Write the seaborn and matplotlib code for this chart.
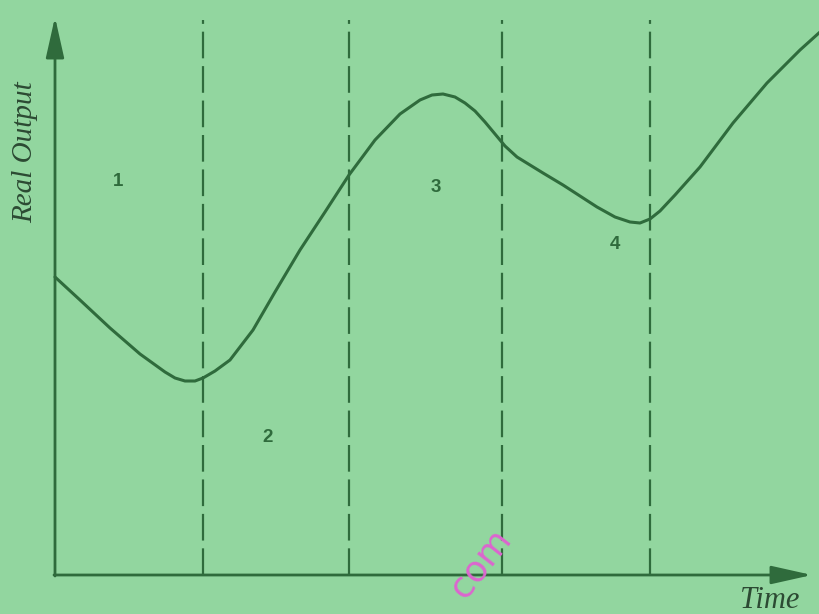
import numpy as np
import pandas as pd
import matplotlib
matplotlib.use("Agg")
import matplotlib.pyplot as plt
import seaborn as sns

# business cycle curve (time, real output)
time_pts = [0.00, 0.25, 0.55, 0.85, 1.10, 1.20, 1.30, 1.40, 1.48, 1.60, 1.75, 1.98, 2.20,
            2.45, 2.70, 2.94, 3.20, 3.45, 3.65, 3.77, 3.88, 4.00, 4.10, 4.20, 4.30, 4.40,
            4.50, 4.62, 4.88, 5.08, 5.25, 5.42, 5.60, 5.75, 5.85, 5.95, 6.05, 6.20, 6.45,
            6.78, 7.12, 7.45, 7.65]
output_pts = [2.98, 2.75, 2.47, 2.21, 2.03, 1.97, 1.94, 1.94, 1.97, 2.04, 2.15, 2.45, 2.83,
              3.25, 3.63, 4.00, 4.35, 4.61, 4.75, 4.80, 4.81, 4.78, 4.72, 4.64, 4.53, 4.41,
              4.29, 4.18, 4.02, 3.90, 3.79, 3.68, 3.58, 3.53, 3.52, 3.56, 3.64, 3.80, 4.08,
              4.52, 4.92, 5.25, 5.43]

# phase boundaries and phase numbers
boundaries = [1.48, 2.94, 4.47, 5.95]
phases = ["1", "2", "3", "4"]
phase_x = [0.63, 2.13, 3.81, 5.60]
phase_y = [3.93, 1.37, 3.87, 3.30]

bg = "#92d69f"
ink = "#2f6b3c"

sns.set_theme(style="white")
plt.rcParams['font.family'] = ['Liberation Serif', 'DejaVu Sans']

fig = plt.figure(figsize=(8.2, 6.14), dpi=100, facecolor=bg)
ax = fig.add_axes([0, 0, 1, 1])
ax.set_facecolor(bg)

df = pd.DataFrame({"Time": time_pts, "Output": output_pts})
sns.lineplot(data=df, x="Time", y="Output", ax=ax, color=ink, lw=2.2, sort=False)

for b in boundaries:
    ax.plot([b, b], [0, 5.55], color=ink, lw=1.6, linestyle=(0, (12, 3.5)))

# axes with arrow heads
ax.annotate("", xy=(0, 5.58), xytext=(0, -0.01),
            arrowprops=dict(arrowstyle="-|>,head_length=1.25,head_width=0.28",
                            mutation_scale=20, color=ink, lw=2, shrinkA=0, shrinkB=0))
ax.annotate("", xy=(7.57, 0), xytext=(-0.01, 0),
            arrowprops=dict(arrowstyle="-|>,head_length=1.25,head_width=0.28",
                            mutation_scale=20, color=ink, lw=2, shrinkA=0, shrinkB=0))

for lab, px, py in zip(phases, phase_x, phase_y):
    ax.text(px, py, lab, ha="center", va="center", fontsize=13.5, fontweight="bold",
            color=ink, family="Liberation Sans")

ax.text(-0.30, 4.23, "Real Output", rotation=90, ha="center", va="center",
        fontsize=21, style="italic", color="#2c4a33")
ax.text(7.15, -0.25, "Time", ha="center", va="center", fontsize=22,
        style="italic", color="#2c4a33")

# watermark
ax.text(4.25, 0.12, "com", rotation=52, ha="center", va="center", fontsize=26,
        color="#dc66cf", family="DejaVu Sans")

ax.set_xlim(-0.55, 7.65)
ax.set_ylim(-0.39, 5.75)
ax.set_xlabel("")
ax.set_ylabel("")
ax.set_xticks([])
ax.set_yticks([])
for s in ax.spines.values():
    s.set_visible(False)

plt.savefig("out.png", dpi=100, facecolor=bg)
